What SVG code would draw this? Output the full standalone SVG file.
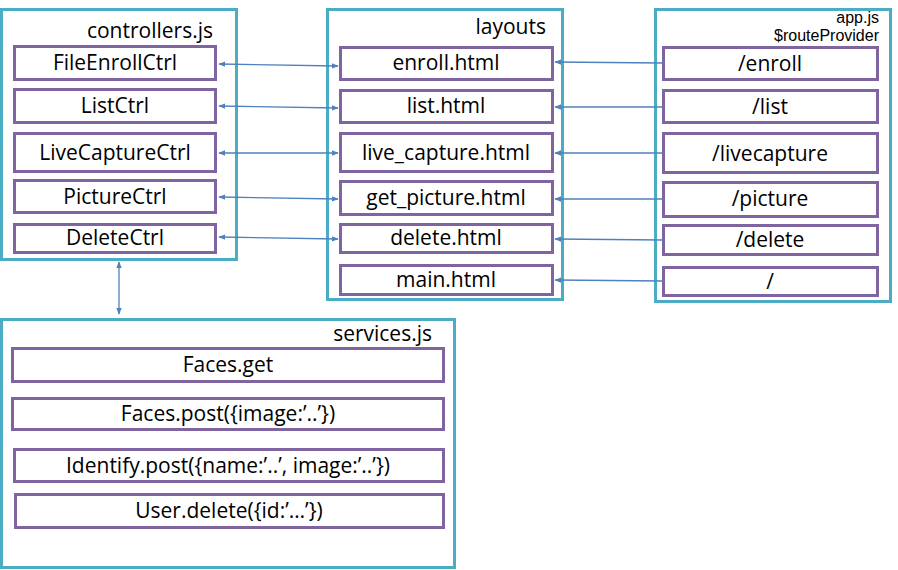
<svg xmlns="http://www.w3.org/2000/svg" width="898" height="570" viewBox="0 0 898 570">
<defs>
<style>
.cont{fill:#fff;stroke:#4BACC6;stroke-width:3}
.box{fill:#fff;stroke:#8064A2;stroke-width:3}
text{font-family:"Open Sans","Liberation Sans",sans-serif;fill:#000}
.t{font-size:21px;text-anchor:middle}
.h{font-size:21px;text-anchor:end}
.s{font-family:"Liberation Sans",Arial,sans-serif;font-size:16px;text-anchor:end}
.c{stroke:#4F81BD;stroke-width:1.3;fill:none}
</style>
<marker id="ah" viewBox="0 0 10 10" refX="9" refY="5" markerWidth="7" markerHeight="7" orient="auto-start-reverse" markerUnits="userSpaceOnUse">
<path d="M0,1 L10,5 L0,9 z" fill="#4F81BD"/>
</marker>
</defs>
<g id="controllers">
<rect class="cont" x="1.5" y="9.5" width="235" height="250"/>
<text class="h" x="213" y="38">controllers.js</text>
</g>
<g id="FileEnrollCtrl"><rect class="box" x="14.5" y="46.5" width="201" height="33"/><text class="t" x="115" y="70">FileEnrollCtrl</text></g>
<g id="ListCtrl"><rect class="box" x="14.5" y="89.5" width="201" height="33"/><text class="t" x="115" y="113">ListCtrl</text></g>
<g id="LiveCaptureCtrl"><rect class="box" x="14.5" y="133.5" width="201" height="38"/><text class="t" x="115" y="160">LiveCaptureCtrl</text></g>
<g id="PictureCtrl"><rect class="box" x="14.5" y="180.5" width="201" height="32"/><text class="t" x="115" y="204">PictureCtrl</text></g>
<g id="DeleteCtrl"><rect class="box" x="14.5" y="224.5" width="201" height="28"/><text class="t" x="115" y="245">DeleteCtrl</text></g>

<g id="layouts">
<rect class="cont" x="327.5" y="9.5" width="235" height="290"/>
<text class="h" x="546" y="34">layouts</text>
</g>
<g id="enroll_html"><rect class="box" x="340.5" y="47.5" width="212" height="32"/><text class="t" x="446" y="70">enroll.html</text></g>
<g id="list_html"><rect class="box" x="340.5" y="90.5" width="212" height="32"/><text class="t" x="446" y="113">list.html</text></g>
<g id="live_capture_html"><rect class="box" x="340.5" y="133.5" width="212" height="38"/><text class="t" x="446" y="160">live_capture.html</text></g>
<g id="get_picture_html"><rect class="box" x="340.5" y="181.5" width="212" height="33"/><text class="t" x="446" y="205">get_picture.html</text></g>
<g id="delete_html"><rect class="box" x="340.5" y="224.5" width="212" height="28"/><text class="t" x="446" y="245">delete.html</text></g>
<g id="main_html"><rect class="box" x="340.5" y="265.5" width="212" height="29"/><text class="t" x="446" y="287">main.html</text></g>

<g id="appjs">
<rect class="cont" x="655.5" y="9.5" width="235" height="292"/>
<text class="s" x="879" y="23">app.js</text>
<text class="s" x="879" y="41">$routeProvider</text>
</g>
<g id="r_enroll"><rect class="box" x="663.5" y="47.5" width="214" height="32"/><text class="t" x="770" y="71">/enroll</text></g>
<g id="r_list"><rect class="box" x="663.5" y="90.5" width="214" height="32"/><text class="t" x="770" y="114">/list</text></g>
<g id="r_livecapture"><rect class="box" x="663.5" y="133.5" width="214" height="39"/><text class="t" x="770" y="161">/livecapture</text></g>
<g id="r_picture"><rect class="box" x="663.5" y="182.5" width="214" height="34"/><text class="t" x="770" y="206">/picture</text></g>
<g id="r_delete"><rect class="box" x="663.5" y="225.5" width="214" height="29"/><text class="t" x="770" y="247">/delete</text></g>
<g id="r_root"><rect class="box" x="663.5" y="267.5" width="214" height="28"/><text class="t" x="770" y="289">/</text></g>

<g id="services">
<rect class="cont" x="1.5" y="319.5" width="453" height="248"/>
<text class="h" x="432" y="341">services.js</text>
</g>
<g id="Faces_get"><rect class="box" x="12.5" y="348.5" width="431" height="33"/><text class="t" x="228" y="372">Faces.get</text></g>
<g id="Faces_post"><rect class="box" x="12.5" y="398.5" width="431" height="31"/><text class="t" x="228" y="421">Faces.post({image:’..’})</text></g>
<g id="Identify_post"><rect class="box" x="14.5" y="449.5" width="429" height="32"/><text class="t" x="228" y="473">Identify.post({name:’..’, image:’..’})</text></g>
<g id="User_delete"><rect class="box" x="15.5" y="494.5" width="428" height="33"/><text class="t" x="229" y="518">User.delete({id:’…’})</text></g>

<g id="connectors">
<line class="c" x1="219" y1="64" x2="338" y2="66" marker-start="url(#ah)" marker-end="url(#ah)"/>
<line class="c" x1="219" y1="106" x2="338" y2="108" marker-start="url(#ah)" marker-end="url(#ah)"/>
<line class="c" x1="219" y1="153" x2="338" y2="153" marker-start="url(#ah)" marker-end="url(#ah)"/>
<line class="c" x1="219" y1="197" x2="338" y2="199" marker-start="url(#ah)" marker-end="url(#ah)"/>
<line class="c" x1="219" y1="237" x2="338" y2="239" marker-start="url(#ah)" marker-end="url(#ah)"/>
<line class="c" x1="663" y1="63" x2="555" y2="62" marker-end="url(#ah)"/>
<line class="c" x1="663" y1="107" x2="555" y2="107" marker-end="url(#ah)"/>
<line class="c" x1="663" y1="153" x2="555" y2="153" marker-end="url(#ah)"/>
<line class="c" x1="663" y1="199" x2="555" y2="199" marker-end="url(#ah)"/>
<line class="c" x1="663" y1="240" x2="555" y2="239" marker-end="url(#ah)"/>
<line class="c" x1="663" y1="281" x2="555" y2="280" marker-end="url(#ah)"/>
<line class="c" x1="119" y1="262" x2="119" y2="314" marker-start="url(#ah)" marker-end="url(#ah)"/>
</g>
</svg>
